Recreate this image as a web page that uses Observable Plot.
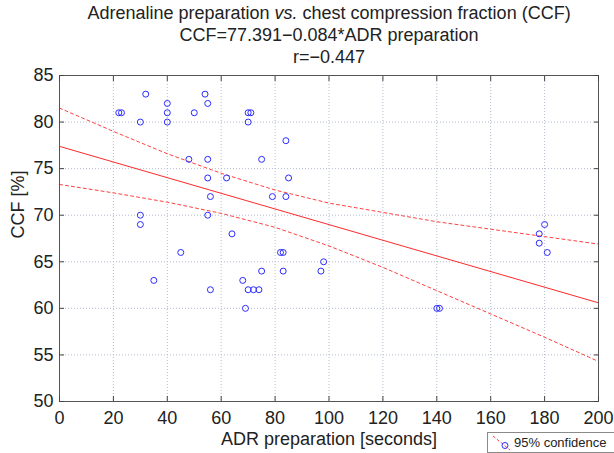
<!DOCTYPE html>
<html>
<head>
<meta charset="utf-8">
<script src="https://cdn.jsdelivr.net/npm/d3@7"></script>
<script src="https://cdn.jsdelivr.net/npm/@observablehq/plot@0.6"></script>
<style>
  html, body { margin: 0; padding: 0; background: #fff; overflow: hidden; }
  #wrap { position: relative; width: 614px; height: 453px; overflow: hidden; }
  #legend { position: absolute; left: 487px; top: 432px; width: 150px; height: 19px;
    border: 1px solid #8a8a8a; background: #fff; font-family: "Liberation Sans", Arial, sans-serif;
    font-size: 13px; color: #222; display: flex; align-items: center; }
  #legend svg { flex: none; }
</style>
</head>
<body>
<div id="wrap"></div>
<script>
const titleLines = [
  "Adrenaline preparation vs. chest compression fraction (CCF)",
  "CCF=77.391\u22120.084*ADR preparation",
  "r=\u22120.447"
];
const xLabel = "ADR preparation [seconds]";
const yLabel = "CCF [%]";
const legendLabel = "95% confidence";

const xTicks = [0, 20, 40, 60, 80, 100, 120, 140, 160, 180, 200];
const yTicks = [50, 55, 60, 65, 70, 75, 80, 85];

// Observations: ADR preparation (seconds) and CCF (%)
const adrSeconds = [32, 54, 40, 55, 22, 23, 40, 50, 70, 71, 30, 40, 70, 84, 48, 55, 75, 55, 62, 85,
  56, 79, 84, 30, 30, 55, 64, 45, 82, 83, 98, 75, 83, 97, 35, 68, 56, 70, 72, 74,
  69, 140, 141, 180, 178, 178, 181];
const ccfPercent = [83, 83, 82, 82, 81, 81, 81, 81, 81, 81, 80, 80, 80, 78, 76, 76, 76, 74, 74, 74,
  72, 72, 72, 70, 69, 70, 68, 66, 66, 66, 65, 64, 64, 64, 63, 63, 62, 62, 62, 62,
  60, 60, 60, 69, 68, 67, 66];

// Regression line (from the equation in the title) and 95% confidence band
const fitX = [0, 200];
const fitY = [77.391, 60.591];
const bandX = [0, 20, 40, 60, 80, 100, 120, 140, 160, 180, 200];
const bandUpper = [81.5, 79.0, 76.6, 74.5, 72.7, 71.3, 70.3, 69.3, 68.5, 67.7, 66.9];
const bandLower = [73.3, 72.4, 71.4, 70.2, 68.7, 66.7, 64.4, 61.9, 59.4, 56.9, 54.3];

const points = adrSeconds.map((x, i) => ({x, y: ccfPercent[i]}));
const fit = fitX.map((x, i) => ({x, y: fitY[i]}));
const upper = bandX.map((x, i) => ({x, y: bandUpper[i]}));
const lower = bandX.map((x, i) => ({x, y: bandLower[i]}));

const red = "#ff2a2a";
const redDash = "#ff4040";
const blue = "#2b2bff";
const font = "'Liberation Sans', Arial, Helvetica, sans-serif";
const blank = () => "";

const chart = Plot.plot({
  width: 614,
  height: 453,
  marginLeft: 59,
  marginRight: 16,
  marginTop: 75,
  marginBottom: 52,
  style: {fontFamily: font, fontSize: "18px", color: "#222", background: "#fff"},
  x: {domain: [0, 200]},
  y: {domain: [50, 85]},
  marks: [
    Plot.gridX(xTicks, {stroke: "#b4bcd2", strokeOpacity: 1, strokeDasharray: "1,2"}),
    Plot.gridY(yTicks, {stroke: "#b4bcd2", strokeOpacity: 1, strokeDasharray: "1,2"}),
    Plot.line(upper, {x: "x", y: "y", stroke: redDash, strokeWidth: 1, strokeDasharray: "3,3"}),
    Plot.line(lower, {x: "x", y: "y", stroke: redDash, strokeWidth: 1, strokeDasharray: "3,3"}),
    Plot.line(fit, {x: "x", y: "y", stroke: red, strokeWidth: 1}),
    Plot.dot(points, {x: "x", y: "y", r: 3, stroke: blue, strokeWidth: 1, fill: "none"}),
    Plot.frame({stroke: "#555", strokeWidth: 1}),
    // inward tick marks on all four sides (MATLAB style)
    Plot.axisX(xTicks, {anchor: "bottom", tickSize: 5, dy: -5, tickFormat: blank, label: null, stroke: "#444"}),
    Plot.axisX(xTicks, {anchor: "top", tickSize: 5, dy: 5, tickFormat: blank, label: null, stroke: "#444"}),
    Plot.axisY(yTicks, {anchor: "left", tickSize: 5, dx: 5, tickFormat: blank, label: null, stroke: "#444"}),
    Plot.axisY(yTicks, {anchor: "right", tickSize: 5, dx: -5, tickFormat: blank, label: null, stroke: "#444"}),
    // tick labels
    Plot.axisX(xTicks, {anchor: "bottom", tickSize: 0, tickPadding: 10, label: null, fontSize: 18}),
    Plot.axisY(yTicks, {anchor: "left", tickSize: 0, tickPadding: 6, label: null, fontSize: 18}),
    Plot.text([titleLines[0]], {frameAnchor: "top", dy: -69, lineAnchor: "top", fontSize: 18, fill: "#222", text: d => d}),
    Plot.text([titleLines[1]], {frameAnchor: "top", dy: -47, lineAnchor: "top", fontSize: 18, fill: "#222", text: d => d}),
    Plot.text([titleLines[2]], {frameAnchor: "top", dy: -25, lineAnchor: "top", fontSize: 18, fill: "#222", text: d => d}),
    Plot.text([xLabel], {frameAnchor: "bottom", dy: 31, lineAnchor: "top", fontSize: 18, fill: "#222", text: d => d}),
    Plot.text([yLabel], {frameAnchor: "left", dx: -41, rotate: -90, fontSize: 18, fill: "#222", text: d => d})
  ]
});

// italicize "vs." in the first title line
d3.select(chart).selectAll("text").each(function() {
  const t = this.textContent;
  if (t === titleLines[0]) {
    const sel = d3.select(this);
    const [a, b] = t.split("vs.");
    sel.text(null);
    sel.append("tspan").text(a);
    sel.append("tspan").attr("font-style", "italic").text("vs.");
    sel.append("tspan").text(b);
  }
});

const wrap = document.getElementById("wrap");
wrap.appendChild(chart);

const legend = document.createElement("div");
legend.id = "legend";
legend.innerHTML = `<svg width="26" height="19" viewBox="0 0 26 19">
  <line x1="5" y1="3" x2="22" y2="17" stroke="${redDash}" stroke-width="1" stroke-dasharray="3,2"></line>
  <circle cx="17" cy="12.5" r="3" fill="none" stroke="${blue}" stroke-width="1"></circle>
</svg><span>${legendLabel}</span>`;
wrap.appendChild(legend);
</script>
</body>
</html>
